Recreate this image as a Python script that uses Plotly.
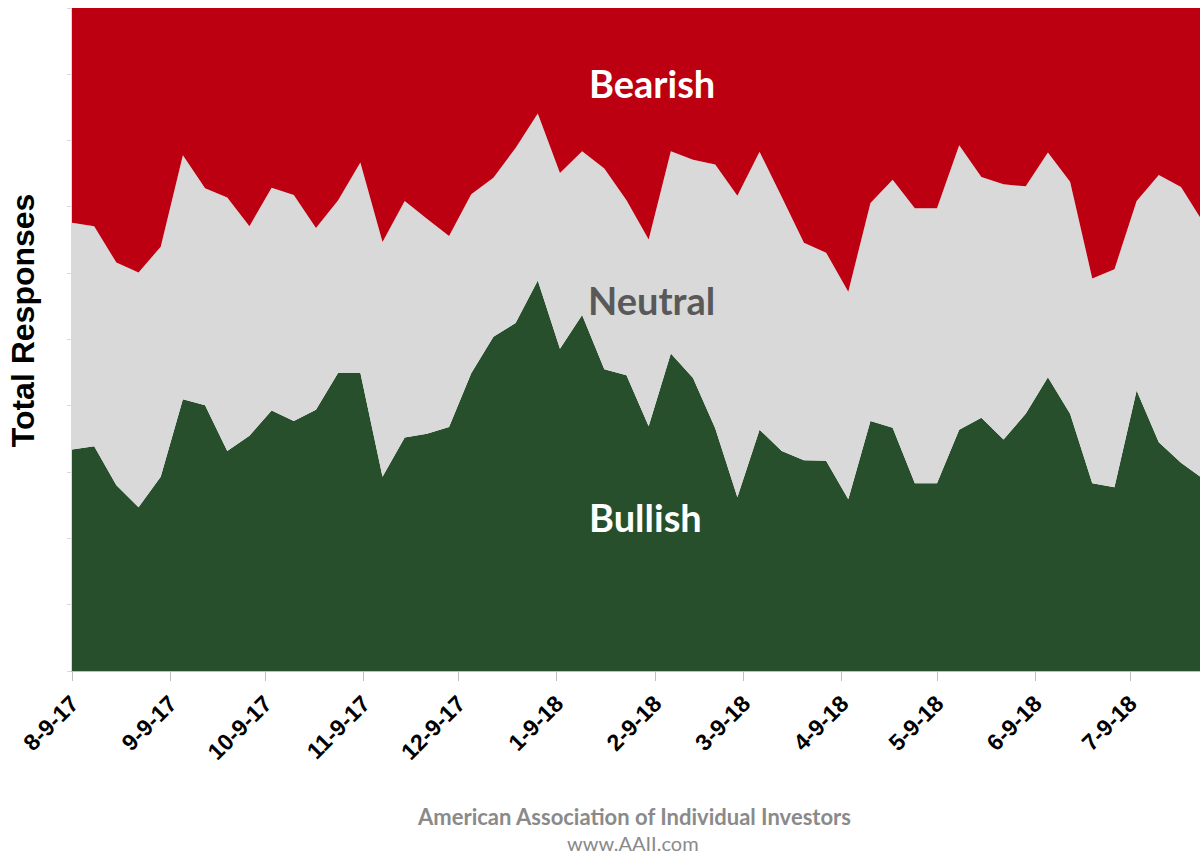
import pandas as pd
import plotly.graph_objects as go

# Weekly survey dates (AAII sentiment survey, starting 8-9-2017)
dates = pd.date_range("2017-08-09", periods=52, freq="7D")

bullish = [33.4, 33.9, 28.0, 24.7, 29.3, 41.0, 40.1, 33.2, 35.5, 39.3,
           37.7, 39.4, 45.0, 45.0, 29.3, 35.2, 35.8, 36.8, 44.9, 50.4,
           52.5, 58.9, 48.6, 53.7, 45.5, 44.6, 36.9, 47.9, 44.2, 36.6,
           26.2, 36.4, 33.2, 31.8, 31.7, 25.9, 37.7, 36.7, 28.3, 28.3,
           36.4, 38.2, 34.9, 38.8, 44.3, 38.8, 28.3, 27.7, 42.3, 34.5,
           31.4, 29.0]

bull_plus_neutral = [67.6, 67.1, 61.6, 60.1, 64.0, 77.8, 72.8, 71.4, 67.1, 72.9,
                     71.8, 66.8, 71.0, 76.7, 64.7, 70.9, 68.2, 65.6, 71.9, 74.4,
                     78.9, 84.1, 75.1, 78.4, 75.8, 71.0, 65.1, 78.4, 77.1, 76.4,
                     71.7, 78.3, 71.5, 64.6, 63.1, 57.2, 70.6, 74.1, 69.8, 69.8,
                     79.3, 74.5, 73.4, 73.1, 78.2, 73.8, 59.2, 60.6, 70.9, 74.8,
                     73.0, 67.7]

neutral = [round(t - b, 1) for t, b in zip(bull_plus_neutral, bullish)]
bearish = [round(100 - t, 1) for t in bull_plus_neutral]

tick_dates = ["2017-08-09", "2017-09-09", "2017-10-09", "2017-11-09", "2017-12-09",
              "2018-01-09", "2018-02-09", "2018-03-09", "2018-04-09", "2018-05-09",
              "2018-06-09", "2018-07-09"]
tick_labels = ["8-9-17", "9-9-17", "10-9-17", "11-9-17", "12-9-17", "1-9-18",
               "2-9-18", "3-9-18", "4-9-18", "5-9-18", "6-9-18", "7-9-18"]

GREEN = "#274F2B"
GRAY = "#D9D9D9"
RED = "#BC0011"

fig = go.Figure()
for name, vals, col in [("Bullish", bullish, GREEN),
                        ("Neutral", neutral, GRAY),
                        ("Bearish", bearish, RED)]:
    fig.add_trace(go.Scatter(
        x=dates, y=vals, name=name, mode="lines",
        stackgroup="one", line=dict(width=0, color=col),
        fillcolor=col, hoverinfo="x+y+name"))

fig.update_layout(
    width=1200, height=856,
    margin=dict(l=72, r=0, t=8, b=185),
    plot_bgcolor="white", paper_bgcolor="white",
    showlegend=False,
    font=dict(family="Liberation Sans, Arial, sans-serif", color="black"),
)

fig.update_xaxes(
    type="date",
    range=["2017-08-09", "2018-07-31"],
    tickmode="array", tickvals=tick_dates, ticktext=tick_labels,
    tickangle=-45,
    tickfont=dict(family="Liberation Sans, Arial, sans-serif", size=23,
                  color="black", weight="bold"),
    ticks="outside", ticklen=9, tickcolor="#BFBFBF", tickwidth=1,
    showline=True, linecolor="#BFBFBF", linewidth=1,
    showgrid=False, zeroline=False,
)
fig.update_yaxes(
    range=[0, 100], dtick=10,
    showticklabels=False,
    ticks="outside", ticklen=4, tickcolor="#D9D9D9",
    showline=True, linecolor="#D9D9D9", linewidth=1,
    showgrid=False, zeroline=False,
)

label_font = "Lato, 'Open Sans', sans-serif"
fig.add_annotation(text="Bearish", xref="paper", yref="paper", x=0.514, y=0.887,
                   showarrow=False, xanchor="center", yanchor="middle",
                   font=dict(family=label_font, size=38, color="white", weight="bold"))
fig.add_annotation(text="Neutral", xref="paper", yref="paper", x=0.514, y=0.559,
                   showarrow=False, xanchor="center", yanchor="middle",
                   font=dict(family=label_font, size=38, color="#595959", weight="bold"))
fig.add_annotation(text="Bullish", xref="paper", yref="paper", x=0.508, y=0.232,
                   showarrow=False, xanchor="center", yanchor="middle",
                   font=dict(family=label_font, size=38, color="white", weight="bold"))

fig.add_annotation(text="Total Responses", xref="paper", yref="paper",
                   x=(23 - 72) / 1128, y=0.529, textangle=-90,
                   showarrow=False, xanchor="center", yanchor="middle",
                   font=dict(family="Liberation Sans, Arial, sans-serif", size=32,
                             color="black", weight="bold"))

fig.add_annotation(text="American Association of Individual Investors",
                   xref="paper", yref="paper", x=0.498, y=-0.2196,
                   showarrow=False, xanchor="center", yanchor="middle", borderpad=0,
                   font=dict(family=label_font, size=22, color="#8A8A8A", weight="bold"))
fig.add_annotation(text="www.AAII.com",
                   xref="paper", yref="paper", x=0.497, y=-0.259,
                   showarrow=False, xanchor="center", yanchor="middle", borderpad=0,
                   font=dict(family=label_font, size=20, color="#8A8A8A"))

fig.write_html("out.html",
               config={"displayModeBar": False},
               post_script="document.body.style.margin='0';"
                           "document.body.style.overflow='hidden';")
